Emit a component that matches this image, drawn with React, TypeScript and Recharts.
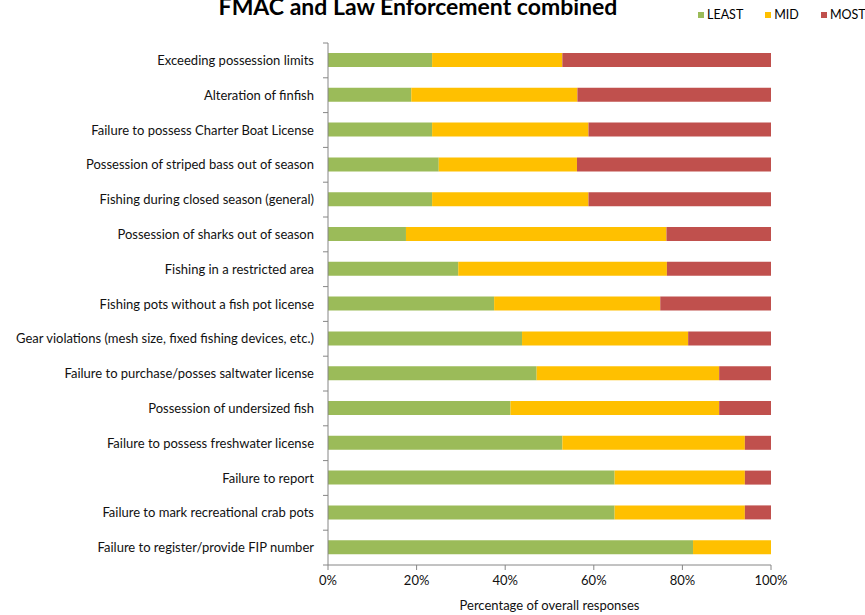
import React from "react";
import { BarChart, Bar, XAxis, YAxis, Label } from "recharts";

const categories = [
  "Exceeding possession limits",
  "Alteration of finfish",
  "Failure to possess Charter Boat License",
  "Possession of striped bass out of season",
  "Fishing during closed season (general)",
  "Possession of sharks out of season",
  "Fishing in a restricted area",
  "Fishing pots without a fish pot license",
  "Gear violations (mesh size, fixed fishing devices, etc.)",
  "Failure to purchase/posses saltwater license",
  "Possession of undersized fish",
  "Failure to possess freshwater license",
  "Failure to report",
  "Failure to mark recreational crab pots",
  "Failure to register/provide FIP number",
];

const least = [23.5, 18.8, 23.5, 25.0, 23.5, 17.6, 29.4, 37.5, 43.8, 47.1, 41.2, 52.9, 64.7, 64.7, 82.4];
const mid = [29.4, 37.5, 35.3, 31.2, 35.3, 58.8, 47.1, 37.5, 37.5, 41.2, 47.1, 41.2, 29.4, 29.4, 17.6];
const most = [47.1, 43.7, 41.2, 43.8, 41.2, 23.6, 23.5, 25.0, 18.7, 11.7, 11.7, 5.9, 5.9, 5.9, 0];

const xTicks = [0, 20, 40, 60, 80, 100];

const COLORS = { least: "#9BBB59", mid: "#FFC000", most: "#C0504D" };
const AXIS = "#868686";
const FONT = "Lato, 'Open Sans', sans-serif";

const data = categories.map((name, i) => ({
  name,
  least: least[i],
  mid: mid[i],
  most: most[i],
}));

const W = 865;
const H = 615;
const TOP = 43;
const PLOT_BOTTOM = 565;
const BAND = (PLOT_BOTTOM - TOP) / categories.length;

// Excel-style category tick: label at band centre, tick mark on band edges
function CategoryTick(props: any) {
  const { x, y, payload, index } = props;
  return (
    <g>
      <line x1={x + 9} x2={x + 14} y1={y - BAND / 2} y2={y - BAND / 2} stroke={AXIS} />
      {index === categories.length - 1 && (
        <line x1={x + 9} x2={x + 14} y1={y + BAND / 2} y2={y + BAND / 2} stroke={AXIS} />
      )}
      <text x={x} y={y} dy="0.35em" textAnchor="end" fontSize={13} fill="#111" fontFamily={FONT}>
        {payload.value}
      </text>
    </g>
  );
}

const legendItems = [
  { label: "LEAST", color: COLORS.least },
  { label: "MID", color: COLORS.mid },
  { label: "MOST", color: COLORS.most },
];

export default function App() {
  return (
    <div style={{ position: "absolute", left: 0, top: 0, width: W, height: H, background: "#fff", overflow: "hidden" }}>
      <div
        style={{
          position: "absolute",
          left: 0,
          width: 836,
          top: -8,
          textAlign: "center",
          fontFamily: FONT,
          fontWeight: 700,
          fontSize: 23,
          color: "#000",
          whiteSpace: "nowrap",
        }}
      >
        FMAC and Law Enforcement combined
      </div>
      <div
        style={{
          position: "absolute",
          left: 698,
          top: 7,
          display: "flex",
          alignItems: "center",
          fontFamily: FONT,
          fontSize: 12.5,
          color: "#000",
        }}
      >
        {legendItems.map((it) => (
          <div key={it.label} style={{ display: "flex", alignItems: "center", marginRight: 22 }}>
            <span style={{ width: 6, height: 6, background: it.color, marginRight: 3, display: "inline-block" }} />
            <span>{it.label}</span>
          </div>
        ))}
      </div>
      <BarChart
        width={W}
        height={H}
        data={data}
        layout="vertical"
        margin={{ top: TOP, right: 94, bottom: 0, left: 0 }}
        barCategoryGap={0}
      >
        <XAxis
          type="number"
          domain={[0, 100]}
          ticks={xTicks}
          tickFormatter={(v) => `${v}%`}
          height={H - PLOT_BOTTOM}
          stroke={AXIS}
          tickSize={5}
          tickMargin={6}
          tick={{ fill: "#111", fontSize: 13, fontFamily: FONT }}
          interval={0}
        >
          <Label
            value="Percentage of overall responses"
            position="insideBottom"
            offset={5}
            style={{ fill: "#111", fontSize: 13, fontFamily: FONT }}
          />
        </XAxis>
        <YAxis
          type="category"
          dataKey="name"
          width={328}
          stroke={AXIS}
          tickLine={false}
          tickMargin={8}
          tick={<CategoryTick />}
          interval={0}
        />
        <Bar dataKey="least" name="LEAST" stackId="a" fill={COLORS.least} barSize={14} isAnimationActive={false} />
        <Bar dataKey="mid" name="MID" stackId="a" fill={COLORS.mid} barSize={14} isAnimationActive={false} />
        <Bar dataKey="most" name="MOST" stackId="a" fill={COLORS.most} barSize={14} isAnimationActive={false} />
      </BarChart>
    </div>
  );
}
